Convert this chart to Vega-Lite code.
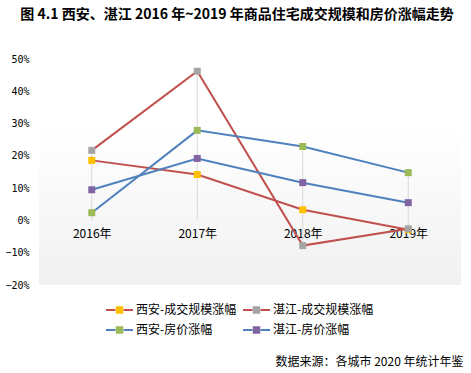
{
  "$schema": "https://vega.github.io/schema/vega-lite/v6.json",
  "width": 422,
  "height": 226,
  "autosize": {"type": "none"},
  "padding": {"left": 39, "top": 59, "right": 10, "bottom": 88},
  "background": "white",
  "title": {
    "text": "图 4.1 西安、湛江 2016 年~2019 年商品住宅成交规模和房价涨幅走势",
    "font": "Noto Sans CJK SC",
    "fontSize": 14,
    "fontWeight": "bold",
    "color": "#000000",
    "anchor": "middle",
    "frame": "group",
    "dx": -13,
    "offset": 32
  },
  "datasets": {
    "main": [
      {"year": "2016年", "series": "西安-成交规模涨幅", "value": 0.186},
      {"year": "2017年", "series": "西安-成交规模涨幅", "value": 0.142},
      {"year": "2018年", "series": "西安-成交规模涨幅", "value": 0.033},
      {"year": "2019年", "series": "西安-成交规模涨幅", "value": -0.029},
      {"year": "2016年", "series": "湛江-成交规模涨幅", "value": 0.217},
      {"year": "2017年", "series": "湛江-成交规模涨幅", "value": 0.462},
      {"year": "2018年", "series": "湛江-成交规模涨幅", "value": -0.078},
      {"year": "2019年", "series": "湛江-成交规模涨幅", "value": -0.026},
      {"year": "2016年", "series": "西安-房价涨幅", "value": 0.024},
      {"year": "2017年", "series": "西安-房价涨幅", "value": 0.279},
      {"year": "2018年", "series": "西安-房价涨幅", "value": 0.229},
      {"year": "2019年", "series": "西安-房价涨幅", "value": 0.148},
      {"year": "2016年", "series": "湛江-房价涨幅", "value": 0.095},
      {"year": "2017年", "series": "湛江-房价涨幅", "value": 0.192},
      {"year": "2018年", "series": "湛江-房价涨幅", "value": 0.117},
      {"year": "2019年", "series": "湛江-房价涨幅", "value": 0.055}
    ],
    "drops": [
      {"year": "2016年", "top": 0.217, "bottom": 0},
      {"year": "2017年", "top": 0.462, "bottom": 0},
      {"year": "2018年", "top": 0.229, "bottom": -0.078},
      {"year": "2019年", "top": 0.148, "bottom": -0.029}
    ]
  },
  "layer": [
    {
      "mark": {"type": "rule", "color": "#d9d9d9", "strokeWidth": 1},
      "encoding": {
        "y": {"datum": 0, "type": "quantitative", "scale": {"domain": [-0.2, 0.5], "nice": false}}
      }
    },
    {
      "data": {"name": "drops"},
      "mark": {"type": "rule", "color": "#d9d9d9", "strokeWidth": 1},
      "encoding": {
        "x": {"field": "year", "type": "ordinal", "scale": {"type": "point", "padding": 0.5}, "axis": {"title": "数据来源：各城市 2020 年统计年鉴"}},
        "y": {"field": "top", "type": "quantitative", "title": null},
        "y2": {"field": "bottom"}
      }
    },
    {
      "data": {"name": "main"},
      "mark": {"type": "line", "strokeWidth": 2},
      "encoding": {
        "x": {"field": "year", "type": "ordinal", "axis": {"title": "数据来源：各城市 2020 年统计年鉴"}},
        "y": {"field": "value", "type": "quantitative", "title": null},
        "detail": {"field": "series"},
        "stroke": {
          "field": "series",
          "type": "nominal",
          "sort": null,
          "scale": {"range": ["#C0504D", "#C0504D", "#4F81BD", "#4F81BD"]},
          "legend": {
            "orient": "none",
            "direction": "horizontal",
            "legendX": 66,
            "legendY": 243,
            "columns": 2,
            "title": null,
            "padding": 0,
            "symbolType": "M-1,0H-0.3M0.3,0H1",
            "symbolSize": 729,
            "symbolStrokeWidth": 2,
            "labelFont": "Noto Sans CJK SC",
            "labelFontSize": 12,
            "labelColor": "#000000",
            "labelOffset": 2,
            "clipHeight": 16,
            "rowPadding": 4,
            "columnPadding": 5,
            "encode": {"symbols": {"update": {"fill": {"value": "transparent"}}}}
          }
        }
      }
    },
    {
      "data": {"name": "main"},
      "mark": {"type": "point", "shape": "square", "filled": true, "size": 49, "opacity": 1, "strokeWidth": 0},
      "encoding": {
        "x": {"field": "year", "type": "ordinal"},
        "y": {"field": "value", "type": "quantitative", "title": null},
        "fill": {
          "field": "series",
          "type": "nominal",
          "scale": {
            "domain": ["西安-成交规模涨幅", "湛江-成交规模涨幅", "西安-房价涨幅", "湛江-房价涨幅"],
            "range": ["#FFC000", "#A5A5A5", "#9BBB59", "#8064A2"]
          },
          "legend": {
            "orient": "none",
            "direction": "horizontal",
            "legendX": 66,
            "legendY": 243,
            "columns": 2,
            "title": null,
            "padding": 0,
            "symbolType": "M-1,0H1M-0.28,-0.28H0.28V0.28H-0.28Z",
            "symbolSize": 729,
            "symbolStrokeWidth": 2,
            "labelFont": "Noto Sans CJK SC",
            "labelFontSize": 12,
            "labelColor": "#000000",
            "labelOpacity": 0,
            "labelOffset": 2,
            "clipHeight": 16,
            "rowPadding": 4,
            "columnPadding": 5,
            "encode": {"symbols": {"update": {"stroke": {"value": "transparent"}, "opacity": {"value": 1}}}}
          }
        }
      }
    }
  ],
  "config": {
    "view": {
      "stroke": null,
      "fill": {
        "gradient": "linear",
        "x1": 0, "y1": 0, "x2": 0, "y2": 1,
        "stops": [
          {"offset": 0, "color": "#ffffff"},
          {"offset": 0.3, "color": "#ffffff"},
          {"offset": 1, "color": "#f1f1f1"}
        ]
      }
    },
    "axisY": {
      "values": [-0.2, -0.1, 0, 0.1, 0.2, 0.3, 0.4, 0.5],
      "format": ".0%",
      "grid": false,
      "ticks": false,
      "domain": false,
      "labelFont": "DejaVu Sans Mono",
      "labelFontSize": 10,
      "labelColor": "#000000",
      "labelPadding": 10
    },
    "axisX": {
      "labelAngle": 0,
      "grid": false,
      "ticks": false,
      "domain": false,
      "offset": -65,
      "labelFont": "Noto Sans CJK SC",
      "labelFontSize": 12,
      "labelColor": "#000000",
      "labelPadding": 8,
      "titleFont": "Noto Sans CJK SC",
      "titleFontSize": 12,
      "titleFontWeight": "normal",
      "titleColor": "#000000",
      "titleAnchor": "end",
      "titleAlign": "right",
      "titleBaseline": "middle",
      "titleY": 141,
      "titleX": 424
    }
  }
}
